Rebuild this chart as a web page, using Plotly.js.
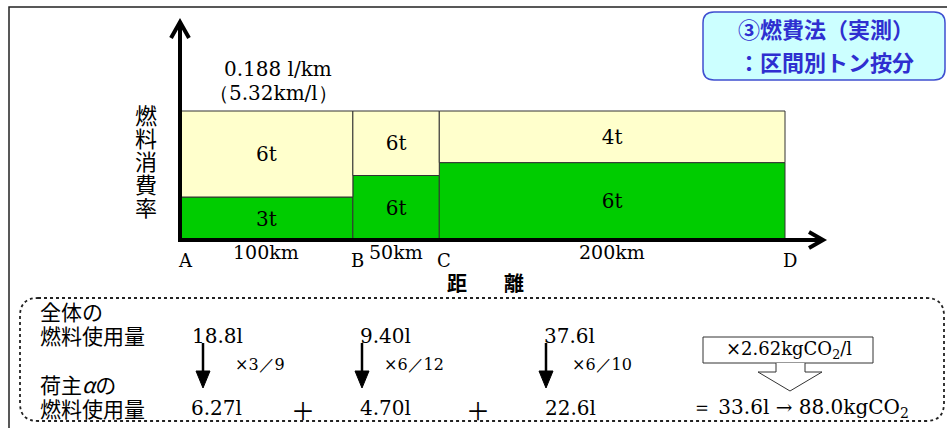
<!DOCTYPE html>
<html><head><meta charset="utf-8">
<script src="https://cdn.plot.ly/plotly-3.0.1.min.js"></script>
<style>html,body{margin:0;padding:0;background:#fff}#chart{width:947px;height:428px}</style>
</head><body><div id="chart"></div>
<script>
// ---- data ----
const pointLabels = ['A', 'B', 'C', 'D'];
const segKm = [100, 50, 200];
const shipperTons = [3, 6, 6];
const otherTons = [6, 6, 4];
const fuelRateText = ['0.188 l/km', '（5.32km/l）'];
const totalFuel = ['18.8', '9.40', '37.6'];
const shipperFuel = ['6.27', '4.70', '22.6'];
const ratioText = ['×3／9', '×6／12', '×6／10'];
const co2Factor = '2.62';
const shipperTotal = '33.6';
const co2Total = '88.0';
const yLabelChars = ['燃', '料', '消', '費', '率'];

// ---- geometry helpers (pixel -> paper) ----
const W = 947, H = 428;
const L = 180, T = 21, PW = 645, PH = 219;
const px = x => (x - L) / PW;
const py = y => (T + PH - y) / PH;
const SERIF = 'DejaVu Serif, serif';
const JP = 'Noto Sans CJK JP, sans-serif';

const starts = [0];
segKm.forEach((k, i) => starts.push(starts[i] + k));
const mids = segKm.map((k, i) => starts[i] + k / 2);
const greenH = shipperTons.map((t, i) => t / (t + otherTons[i]));
const yellowH = greenH.map(g => 1 - g);

const traces = [
  {type: 'bar', x: mids, y: greenH, base: segKm.map(() => 0), width: segKm,
   marker: {color: '#00cc00', line: {color: '#333', width: 1}},
   text: shipperTons.map(t => t + 't'), textposition: 'inside', insidetextanchor: 'middle',
   textfont: {family: SERIF, size: 20, color: '#000'}, constraintext: 'none', hoverinfo: 'skip'},
  {type: 'bar', x: mids, y: yellowH, base: greenH, width: segKm,
   marker: {color: '#ffffcc', line: {color: '#333', width: 1}},
   text: otherTons.map(t => t + 't'), textposition: 'inside', insidetextanchor: 'middle',
   textfont: {family: SERIF, size: 20, color: '#000'}, constraintext: 'none', hoverinfo: 'skip'}
];

function pathFrom(pts, close) {
  return pts.map((p, i) => (i ? 'L ' : 'M ') + px(p[0]) + ',' + py(p[1])).join(' ') + (close ? ' Z' : '');
}
function roundRect(x0, y0, x1, y1, r) {
  const P = (x, y) => px(x) + ',' + py(y);
  return 'M ' + P(x0 + r, y0) + ' L ' + P(x1 - r, y0) + ' Q ' + P(x1, y0) + ' ' + P(x1, y0 + r) +
    ' L ' + P(x1, y1 - r) + ' Q ' + P(x1, y1) + ' ' + P(x1 - r, y1) +
    ' L ' + P(x0 + r, y1) + ' Q ' + P(x0, y1) + ' ' + P(x0, y1 - r) +
    ' L ' + P(x0, y0 + r) + ' Q ' + P(x0, y0) + ' ' + P(x0 + r, y0) + ' Z';
}
const pref = {xref: 'paper', yref: 'paper'};
const shapes = [
  // outer frame
  Object.assign({type: 'path', path: pathFrom([[9, 430], [9, 7], [950, 7]]), line: {color: '#222', width: 1.5}}, pref),
  // title box
  Object.assign({type: 'path', path: roundRect(703, 12, 945, 80, 11), fillcolor: '#ccffff', line: {color: '#3f4fd0', width: 1.5}}, pref),
  // y axis + arrow
  Object.assign({type: 'path', path: pathFrom([[180, 242], [180, 24]]), line: {color: '#000', width: 4}}, pref),
  Object.assign({type: 'path', path: pathFrom([[171, 38], [180, 22], [189, 38]]), line: {color: '#000', width: 4}}, pref),
  // x axis + arrow
  Object.assign({type: 'path', path: pathFrom([[178, 240], [822, 240]]), line: {color: '#000', width: 4}}, pref),
  Object.assign({type: 'path', path: pathFrom([[809, 232], [823, 240], [809, 248]]), line: {color: '#000', width: 4}}, pref),
  // dotted box
  Object.assign({type: 'path', path: roundRect(20, 298, 944, 421, 18), line: {color: '#222', width: 1.8, dash: 'dot'}}, pref),
  // factor box + block arrow
  Object.assign({type: 'rect', x0: px(703), x1: px(873), y0: py(337), y1: py(363), fillcolor: '#fff', line: {color: '#333', width: 1}}, pref),
  Object.assign({type: 'path', path: pathFrom([[776, 363], [776, 372], [758, 372], [790, 391], [822, 372], [805, 372], [805, 363]], false), fillcolor: '#fff', line: {color: '#333', width: 1}}, pref)
];
// down arrows
[203, 362, 546].forEach(x => {
  shapes.push(Object.assign({type: 'path', path: pathFrom([[x, 343], [x, 374]]), line: {color: '#000', width: 2.5}}, pref));
  shapes.push(Object.assign({type: 'path', path: pathFrom([[x - 7, 371], [x + 7, 371], [x, 388]], true), fillcolor: '#000', line: {color: '#000', width: 1}}, pref));
});

const ann = [];
function A(text, x, y, size, opts) {
  ann.push(Object.assign({text: text, x: px(x), y: py(y), xref: 'paper', yref: 'paper', showarrow: false,
    xanchor: 'center', yanchor: 'middle', font: {family: SERIF, size: size, color: '#000'}}, opts || {}));
}
// title
A('<b>③燃費法（実測）</b>', 826, 28, 22, {font: {family: JP, size: 22, color: '#2f2fd0'}});
A('<b>：区間別トン按分</b>', 826, 61, 22, {font: {family: JP, size: 22, color: '#2f2fd0'}});
// fuel rate
A(fuelRateText[0], 278, 69, 20);
A(fuelRateText[1], 273, 93, 20);
// y label
yLabelChars.forEach((c, i) => A(c, 146, 114 + i * 23, 22, {font: {family: JP, size: 22, color: '#000'}}));
// point labels
pointLabels.forEach((p, i) => ann.push({text: p, x: starts[i], xref: 'x', y: py(260), yref: 'paper', xshift: 5,
  showarrow: false, xanchor: 'center', yanchor: 'middle', font: {family: SERIF, size: 18, color: '#000'}}));
// km labels
segKm.forEach((k, i) => ann.push({text: k + 'km', x: mids[i], xref: 'x', y: py(252), yref: 'paper',
  showarrow: false, xanchor: 'center', yanchor: 'middle', font: {family: SERIF, size: 19, color: '#000'}}));
// x label
A('<b>距</b>', 457, 282, 20, {font: {family: JP, size: 20, color: '#000'}});
A('<b>離</b>', 514, 282, 20, {font: {family: JP, size: 20, color: '#000'}});
// bottom labels
const jpf = {font: {family: JP, size: 21, color: '#000'}, xanchor: 'left'};
A('全体の', 38, 311, 21, jpf);
A('燃料使用量', 38, 335, 21, jpf);
A('荷主<i>α</i>の', 38, 384, 21, jpf);
A('燃料使用量', 38, 408, 21, jpf);
const topX = [217, 385, 569], botX = [216, 385, 570], ratX = [260, 414, 602];
totalFuel.forEach((v, i) => A(v + 'l', topX[i], 336, 20));
ratioText.forEach((v, i) => A(v, ratX[i], 364, 16));
shipperFuel.forEach((v, i) => A(v + 'l', botX[i], 408, 20));
A('＋', 303, 409, 24, {font: {family: JP, size: 24, color: '#000'}});
A('＋', 478, 409, 24, {font: {family: JP, size: 24, color: '#000'}});
A('×' + co2Factor + 'kgCO<sub>2</sub>/l', 789, 350, 18);
A('＝ ' + shipperTotal + 'l → ' + co2Total + 'kgCO<sub>2</sub>', 690, 408, 20, {xanchor: 'left'});

const layout = {
  width: W, height: H, margin: {l: L, r: W - L - PW, t: T, b: H - T - PH, pad: 0},
  paper_bgcolor: '#fff', plot_bgcolor: 'rgba(0,0,0,0)', showlegend: false, barmode: 'overlay',
  xaxis: {range: [0, PW / ((785 - 180) / 350)], visible: false, fixedrange: true},
  yaxis: {range: [0, PH / 129], visible: false, fixedrange: true},
  shapes: shapes, annotations: ann, hovermode: false
};
Plotly.newPlot('chart', traces, layout, {displayModeBar: false, staticPlot: true});
</script></body></html>
